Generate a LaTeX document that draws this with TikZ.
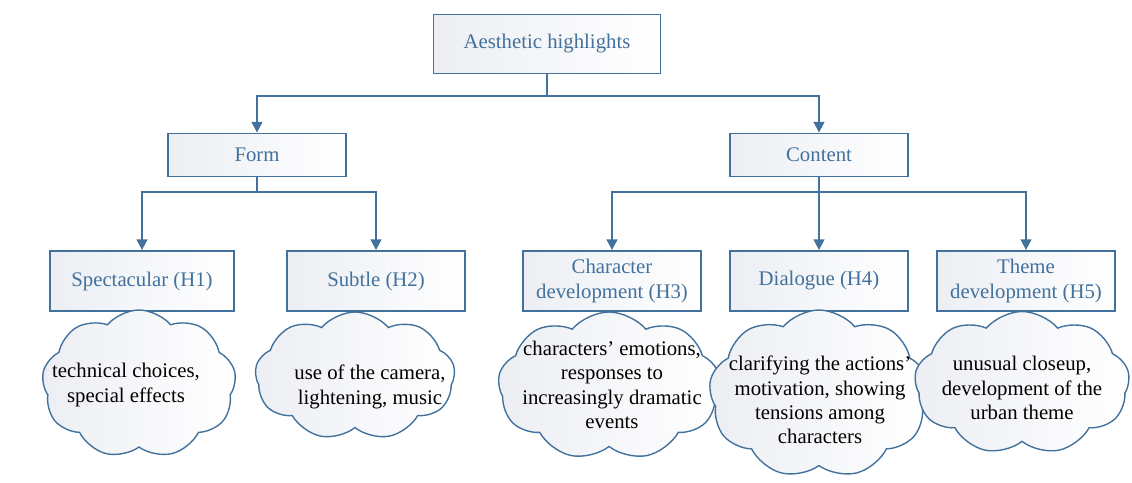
\documentclass[tikz,border=0pt]{standalone}
\usepackage{fontspec}
\setmainfont{Liberation Serif}
\usetikzlibrary{arrows.meta,positioning,shapes.symbols}
\definecolor{ahblue}{HTML}{41719C}
\definecolor{ahshade}{HTML}{ECEEF3}
\newcommand{\px}{0.65pt}

\begin{document}
\begin{tikzpicture}[
  x=\px,y=-\px,
  every node/.style={font=\fontsize{13.5}{15.8}\selectfont,align=center},
  box/.style={draw=ahblue,line width=1.2pt,left color=ahshade,right color=white,text=ahblue,minimum width=178*\px,minimum height=60*\px,inner sep=1pt},
  puff/.style={cloud,cloud puffs=9,cloud puff arc=100,cloud ignores aspect,draw=ahblue,line width=0.9pt,left color=ahshade,right color=white,inner sep=0pt},
  cloudtext/.style={text=black,inner sep=0pt},
  arrow/.style={-{Triangle[length=7pt,width=7pt]},line width=1.3pt,color=ahblue}
]
\useasboundingbox (0,0) rectangle (1132,482);

% boxes
\node[box,minimum width=227*\px,minimum height=59*\px] (top) at (547,44) {Aesthetic highlights};
\node[box,minimum height=43*\px] (form) at (257,155) {Form};
\node[box,minimum height=43*\px] (content) at (819,155) {Content};
\node[box,minimum width=184*\px] (h1) at (142,281) {Spectacular (H1)};
\node[box] (h2) at (376,281) {Subtle (H2)};
\node[box] (h3) at (612,281) {Character\\development (H3)};
\node[box] (h4) at (819,281) {Dialogue (H4)};
\node[box] (h5) at (1026,281) {Theme\\development (H5)};

% clouds
\node[puff,minimum width=194*\px,minimum height=148*\px] (c1) at (139,384) {};
\node[cloudtext] (t1) at (126,385) {technical choices,\\special effects};
\node[puff,minimum width=200*\px,minimum height=128*\px] (c2) at (355,376) {};
\node[cloudtext] (t2) at (370,387) {use of the camera,\\lightening, music};
\node[puff,minimum width=222*\px,minimum height=148*\px] (c3) at (609,386) {};
\node[cloudtext] (t3) at (612,385) {characters' emotions,\\responses to\\increasingly dramatic\\events};
\node[puff,minimum width=220*\px,minimum height=168*\px] (c4) at (819,394) {};
\node[cloudtext] (t4) at (820,400) {clarifying the actions'\\motivation, showing\\tensions among\\characters};
\node[puff,minimum width=215*\px,minimum height=143*\px] (c5) at (1022,383) {};
\node[cloudtext] (t5) at (1022,388) {unusual closeup,\\development of the\\urban theme};

% connectors
\coordinate (s0) at (547,96);
\coordinate (s1) at (257,192);
\coordinate (s2) at (819,192);
\draw[arrow] (top.south) -- (s0) -| (form.north);
\draw[arrow] (s0) -| (content.north);
\draw[arrow] (form.south) -- (s1) -| (h1.north);
\draw[arrow] (s1) -| (h2.north);
\draw[arrow] (content.south) -- (s2) -| (h3.north);
\draw[arrow] (s2) -- (h4.north);
\draw[arrow] (s2) -| (h5.north);
\end{tikzpicture}
\end{document}
